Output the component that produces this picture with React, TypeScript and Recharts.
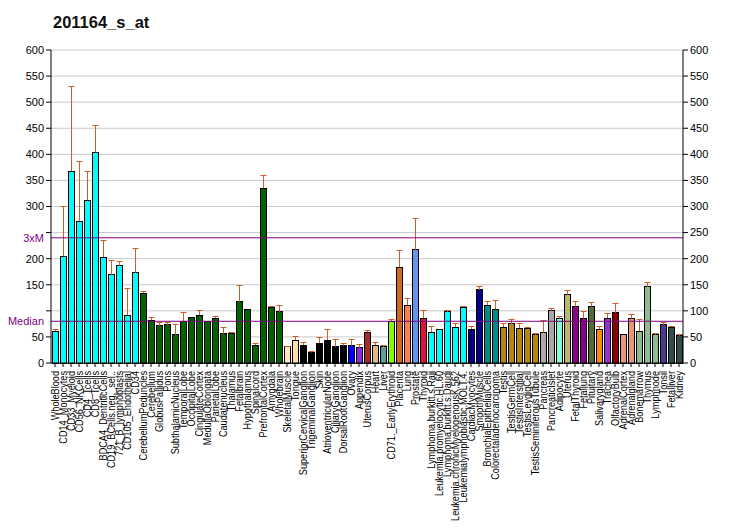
import React from 'react';
import { Bar, CartesianGrid, Cell, ComposedChart, Line, ReferenceLine, XAxis, YAxis } from 'recharts';

const categories = [
	'WholeBlood', 'CD14_Monocytes', 'CD33_Myeloid', 'CD56_NKCells', 'CD4_Tcells', 'CD8_Tcells',
	'BDCA4_DentriticCells', 'CD19_BCells.neg._sel..', '721_B_lymphoblasts', 'CD105_Endothelial', 'CD34',
	'CerebellumPeduncles', 'Cerebellum', 'GlobusPallidus', 'Pons', 'SubthalamicNucleus', 'TemporalLobe',
	'OccipitalLobe', 'CingulateCortex', 'MedullaOblongata', 'ParietalLobe', 'Caudatenucleus', 'Thalamus',
	'Fetalbrain', 'Hypothalamus', 'Spinalcord', 'PrefrontalCortex', 'Amygdala', 'Wholebrain',
	'SkeletalMuscle', 'Tongue', 'SuperiorCervicalGanglion', 'TrigeminalGanglion', 'Skin',
	'AtrioventricularNode', 'CiliaryGanglion', 'DorsalRootGanglion', 'Ovary', 'Appendix', 'UterusCorpus',
	'Heart', 'Liver', 'CD71._EarlyErythroid', 'Placenta', 'Lung', 'Prostate', 'Thyroid',
	'Lymphoma.burkitt.s.Raji', 'Leukemia.promyelocytic.HL.60', 'Lymphoma.burkitt.s.Daudi',
	'Leukemia.chronicMyelogenousK.562', 'Leukemialymphoblastic.MOLT.4.', 'CardiacMyocytes', 'SmoothMuscle',
	'BronchialEpithelialCells', 'Colorectaladenocarcinoma', 'Testis', 'TestisGermCell', 'TestisInterstitial',
	'TestisLeydigCell', 'TestisSeminiferousTubule', 'Pancreas', 'PancreaticIslet', 'Adipocyte', 'Uterus',
	'FetalThyroid', 'Fetallung', 'Pituitary', 'Salivarygland', 'Trachea', 'OlfactoryBulb', 'AdrenalCortex',
	'Adrenalgland', 'Bonemarrow', 'Thymus', 'Lymphnode', 'Tonsil', 'Fetalliver', 'Kidney'
];

const values = [
	61, 205, 368, 272, 312, 404, 203, 169, 186, 92, 173,
	134, 82, 71, 73, 54, 80, 88, 92, 79, 86, 56, 57, 117, 102, 34, 335, 107, 98,
	31, 44, 34, 20, 38, 44, 31, 33, 33, 29, 59, 34, 31,
	79, 184, 111, 217, 86,
	59, 65, 98, 69, 107,
	65, 140, 111, 103,
	69, 75, 67, 67, 54,
	58, 100, 85, 131, 108, 85, 108, 65, 86, 96, 54, 85, 61, 146, 54, 73, 69, 52
];

// upper end of the error whisker (null = none drawn)
const errorTops: (number | null)[] = [
	66, 301, 531, 387, 368, 456, 236, 197, 196, 144, 220,
	138, 88, 79, 79, 75, 98, null, 102, null, 90, 69, 59, 150, null, 38, 360, 109, 111,
	32, 51, 40, 23, 50, 65, 46, 38, 46, 36, 63, 40, 34.5,
	84, 217, 125, 278, 102,
	71, null, 102, 77, 109,
	71, 148, 119, 121,
	77, 85, 77, 69, 58,
	83, 106, 90, 140, 119, 100, 117, 71, 96, 115, null, 94, 85, 156, 58, 78, 71, 56
];

const yTicks = [0, 50, 100, 150, 200, 250, 300, 350, 400, 450, 500, 550, 600];
// left side hides these two labels, the reference-line labels sit there instead
const leftHidden = [100, 250];
const median = 80;
const threeXM = 240;

const C = {
	cyan: '#00FFFF', green: '#006400', black: '#000000', dblue: '#00008B', dcyan: '#008B8B',
	gold: '#B8860B', gray: '#A9A9A9', dmag: '#8B008B', salmon: '#E9967A', sea: '#8FBC8F', slate: '#2F4F4F'
};
const barColors = [
	...Array(11).fill(C.cyan),
	...Array(18).fill(C.green),
	'#FFE4C4', '#FFDEAD',
	...Array(6).fill(C.black),
	'#0000FF', '#8A2BE2', '#A52A2A', '#DEB887', '#5F9EA0',
	'#7FFF00', '#D2691E', '#FF7F50', '#6495ED', '#DC143C',
	...Array(5).fill(C.cyan),
	C.dblue, C.dblue, C.dcyan, C.dcyan,
	...Array(5).fill(C.gold),
	C.gray, C.gray, '#7FFFD4', '#BDB76B', C.dmag, C.dmag, '#556B2F', '#FF8C00', '#9932CC', '#8B0000',
	C.salmon, C.salmon, C.sea, C.sea, C.sea, '#483D8B', C.slate, C.slate
];

const data = categories.map((name, i) => ({
	name,
	value: values[i],
	err: errorTops[i] == null ? 0 : (errorTops[i] as number) - values[i]
}));

const FONT = '"Liberation Sans", Arial, sans-serif';
const ERR_COLOR = '#C8602A';

const XTick = (props: any) => {
	const { x, y, payload } = props;
	return (
		<text
			transform={`translate(${x + 3.5},${y + 2}) rotate(-90) scale(0.915,1)`}
			textAnchor='end'
			fontSize={10}
			fontFamily={FONT}
			fill='#000'
		>
			{payload.value}
		</text>
	);
};

const Whisker = (props: any) => {
	const { x, y, width, height, payload } = props;
	if (!payload || !payload.err || !height) return null;
	const cx = Math.floor(x + width / 2) + 0.5;
	const top = Math.round(y) + 0.5;
	return (
		<g stroke={ERR_COLOR} strokeWidth={1}>
			<line x1={cx} x2={cx} y1={y + height} y2={top} />
			<line x1={cx - 3} x2={cx + 3} y1={top} y2={top} />
		</g>
	);
};

const App = () => (
	<div style={{ position: 'absolute', left: 0, top: 0, width: 732, height: 530, background: '#fff' }}>
		<div
			style={{
				position: 'absolute',
				left: 53,
				top: 14,
				fontFamily: FONT,
				fontSize: 16.5,
				lineHeight: '16.5px',
				fontWeight: 'bold',
				color: '#111'
			}}
		>
			201164_s_at
		</div>
		<ComposedChart
			width={732}
			height={530}
			data={data}
			margin={{ top: 50, right: 0, bottom: 0, left: 0 }}
			barCategoryGap={1}
		>
			<CartesianGrid yAxisId='left' vertical={false} stroke='#C8C8C8' strokeWidth={1} />
			<XAxis
				dataKey='name'
				interval={0}
				height={167}
				tick={<XTick />}
				tickSize={4}
				axisLine={{ stroke: '#000' }}
				tickLine={{ stroke: '#000' }}
			/>
			<YAxis
				yAxisId='left'
				domain={[0, 600]}
				ticks={yTicks}
				width={51}
				tickSize={5}
				axisLine={{ stroke: '#000' }}
				tickLine={{ stroke: '#000' }}
				tick={{ fill: '#000', fontSize: 11, fontFamily: FONT }}
				tickFormatter={(v: number) => (leftHidden.includes(v) ? '' : String(v))}
			/>
			<YAxis
				yAxisId='right'
				orientation='right'
				domain={[0, 600]}
				ticks={yTicks}
				width={49}
				tickSize={5}
				axisLine={{ stroke: '#000' }}
				tickLine={{ stroke: '#000' }}
				tick={{ fill: '#000', fontSize: 11, fontFamily: FONT }}
			/>
			<ReferenceLine
				yAxisId='left'
				y={threeXM}
				stroke='#800080'
				strokeWidth={1}
				label={{ value: '3xM', position: 'left', fill: '#800080', fontSize: 11, fontFamily: FONT, offset: 7 }}
			/>
			<ReferenceLine
				yAxisId='left'
				y={median}
				stroke='#800080'
				strokeWidth={1}
				label={{ value: 'Median', position: 'left', fill: '#800080', fontSize: 11, fontFamily: FONT, offset: 7 }}
			/>
			<Bar
				yAxisId='left'
				dataKey='value'
				stackId='s'
				barSize={6}
				stroke='#000'
				strokeWidth={1}
				shapeRendering='crispEdges'
				isAnimationActive={false}
			>
				{data.map((d, i) => (
					<Cell key={d.name} fill={barColors[i]} />
				))}
			</Bar>
			<Bar
				yAxisId='left'
				dataKey='err'
				stackId='s'
				barSize={6}
				shape={<Whisker />}
				isAnimationActive={false}
			/>
			<Line
				yAxisId='right'
				dataKey='value'
				stroke='none'
				dot={false}
				activeDot={false}
				legendType='none'
				isAnimationActive={false}
			/>
		</ComposedChart>
	</div>
);

export default App;
